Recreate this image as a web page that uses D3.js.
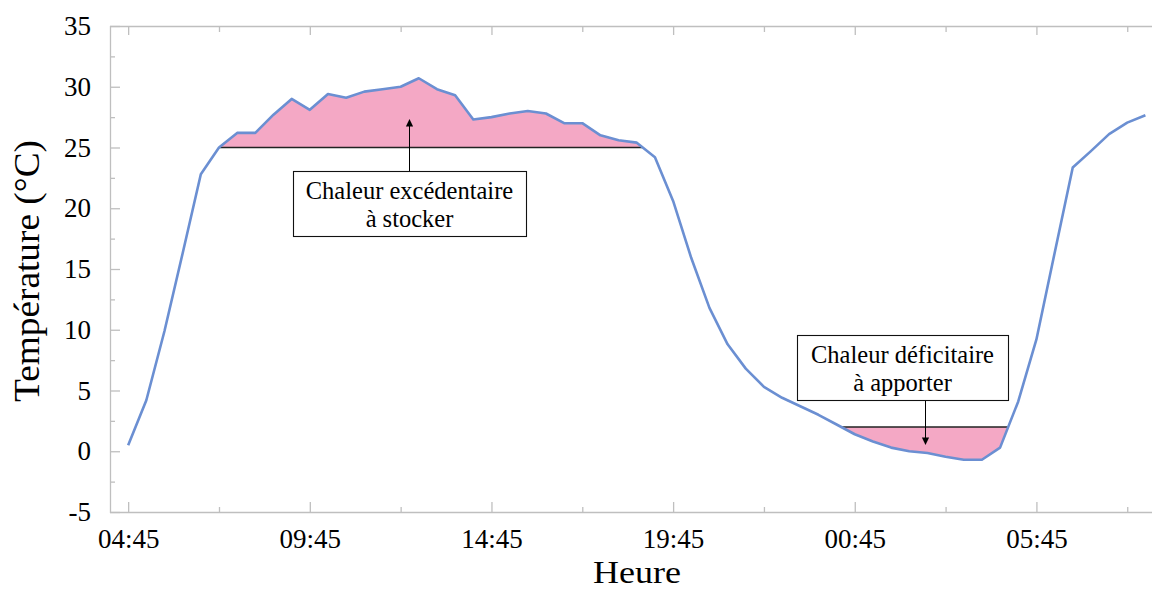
<!DOCTYPE html>
<html><head><meta charset="utf-8">
<script src="https://cdn.jsdelivr.net/npm/d3@7"></script>
<style>
body{margin:0;background:#fff}
svg{display:block}
</style>
</head><body>
<svg id="c" width="1152" height="590" font-family="'Liberation Serif','DejaVu Serif','Times New Roman',serif"></svg>
<script>
// ---- data ----
const times = ["04:45","05:15","05:45","06:15","06:45","07:15","07:45","08:15","08:45","09:15",
  "09:45","10:15","10:45","11:15","11:45","12:15","12:45","13:15","13:45","14:15",
  "14:45","15:15","15:45","16:15","16:45","17:15","17:45","18:15","18:45","19:15",
  "19:45","20:15","20:45","21:15","21:45","22:15","22:45","23:15","23:45","00:15",
  "00:45","01:15","01:45","02:15","02:45","03:15","03:45","04:15","04:45","05:15",
  "05:45","06:15","06:45","07:15","07:45","08:15","08:45"];
const temps = [0.5,4.2,9.9,16.3,22.8,25.0,26.2,26.2,27.7,29.0,
  28.1,29.4,29.1,29.6,29.8,30.0,30.7,29.8,29.3,27.3,
  27.5,27.8,28.0,27.8,27.0,27.0,26.0,25.6,25.4,24.2,
  20.6,15.9,11.8,8.8,6.8,5.3,4.4,3.7,3.0,2.2,
  1.4,0.8,0.3,0.0,-0.15,-0.45,-0.7,-0.7,0.3,4.1,
  9.2,16.3,23.35,24.7,26.1,27.05,27.65];
const yTicks = [-5,0,5,10,15,20,25,30,35];
const xTickLabels = ["04:45","09:45","14:45","19:45","00:45","05:45"];
const storeThreshold = 25;      // chaleur excédentaire
const supplyThreshold = 2;      // chaleur déficitaire
const storeRange = [4, 29];     // bracketing samples (indices)
const supplyRange = [39, 49];
const xLabel = "Heure";
const yLabel = "Température (°C)";
const storeText = ["Chaleur excédentaire", "à stocker"];
const supplyText = ["Chaleur déficitaire", "à apporter"];

const FONT = "'Liberation Serif','DejaVu Serif','Times New Roman',serif";

// ---- parse times with day rollover ----
function parseSeq(arr){
  let day = 0, prev = -1;
  return arr.map(s=>{
    const [h,m] = s.split(":").map(Number);
    const mins = h*60+m;
    if (prev >= 0 && mins < prev) day++;
    prev = mins;
    return new Date(2000,0,1+day,h,m);
  });
}
const dates = parseSeq(times);
const data = dates.map((d,i)=>({t:d, v:temps[i]}));
const tickDates = parseSeq(xTickLabels);

// ---- layout ----
const svg = d3.select("#c");
const L = 110, T = 26, B = 512;
const pxPerHour = 36.33;
const t0 = new Date(+dates[0] - 30*60000);
const t1 = new Date(+t0 + 29*3600000);
const x = d3.scaleTime().domain([t0,t1]).range([L, L + 29*pxPerHour]);
const y = d3.scaleLinear().domain([-5,35]).range([B, T]);
const R = x.range()[1];
const frame = "#bfbfbf";

const minorDates = tickDates.map(d=>new Date(+d + 150*60000));
const yMinor = yTicks.slice(0,-1).map(v=>v+2.5);

// frame
svg.append("line").attr("x1",L).attr("x2",R).attr("y1",T+0.5).attr("y2",T+0.5).attr("stroke",frame).attr("stroke-width",1.3);
svg.append("line").attr("x1",L).attr("x2",R).attr("y1",B+0.5).attr("y2",B+0.5).attr("stroke",frame).attr("stroke-width",1.3);
svg.append("line").attr("x1",L+0.5).attr("x2",L+0.5).attr("y1",T).attr("y2",B+1).attr("stroke",frame).attr("stroke-width",1.3);

function styleAxis(g){
  g.attr("font-family", FONT);
  g.select(".domain").remove();
  g.selectAll(".tick line").attr("stroke",frame).attr("stroke-width",1.3);
  g.selectAll(".tick text").attr("font-family",FONT).style("font-family",FONT)
    .attr("font-size",27).style("font-size","27px").attr("fill","#000");
}

// left axis
const gy = svg.append("g").attr("transform",`translate(${L},0)`)
  .call(d3.axisLeft(y).tickValues(yTicks).tickSize(-10).tickPadding(19).tickFormat(d=>String(d)));
styleAxis(gy);
const gy2 = svg.append("g").attr("transform",`translate(${L},0)`)
  .call(d3.axisLeft(y).tickValues(yMinor).tickSize(-5).tickFormat(""));
styleAxis(gy2);

// bottom axis
const gx = svg.append("g").attr("transform",`translate(0,${B})`)
  .call(d3.axisBottom(x).tickValues(tickDates).tickSize(-10).tickPadding(17).tickFormat(d3.timeFormat("%H:%M")));
styleAxis(gx);
const gx2 = svg.append("g").attr("transform",`translate(0,${B})`)
  .call(d3.axisBottom(x).tickValues(minorDates).tickSize(-5).tickFormat(""));
styleAxis(gx2);

// top mirrored ticks
const gt = svg.append("g").attr("transform",`translate(0,${T})`)
  .call(d3.axisTop(x).tickValues(tickDates).tickSize(-9).tickFormat(""));
styleAxis(gt);
const gt2 = svg.append("g").attr("transform",`translate(0,${T})`)
  .call(d3.axisTop(x).tickValues(minorDates).tickSize(-6).tickFormat(""));
styleAxis(gt2);

// ---- threshold regions ----
function region(range, thr){
  const [a,b] = range;
  const cross = (i,j)=>{
    const f = (thr - data[i].v)/(data[j].v - data[i].v);
    return {t:new Date(+data[i].t + f*(data[j].t - data[i].t)), v:thr};
  };
  const pts = [cross(a,a+1)];
  for (let i=a+1;i<b;i++) pts.push(data[i]);
  pts.push(cross(b-1,b));
  return pts;
}
const pink = "#f4a8c5";
[[storeRange,storeThreshold],[supplyRange,supplyThreshold]].forEach(([rg,thr])=>{
  const pts = region(rg,thr);
  svg.append("path").datum(pts)
    .attr("d", d3.area().x(d=>x(d.t)).y0(y(thr)).y1(d=>y(d.v)))
    .attr("fill", pink);
  svg.append("line")
    .attr("x1", x(pts[0].t)).attr("x2", x(pts[pts.length-1].t))
    .attr("y1", y(thr)).attr("y2", y(thr))
    .attr("stroke","#222").attr("stroke-width",1.5);
});

// ---- temperature line ----
svg.append("path").datum(data)
  .attr("d", d3.line().x(d=>x(d.t)).y(d=>y(d.v)))
  .attr("fill","none").attr("stroke","#6b8fd2").attr("stroke-width",2.6)
  .attr("stroke-linejoin","round");

// ---- annotations ----
function annot(box, lines, arrow){
  const dir = arrow.to < arrow.from ? 1 : -1;
  svg.append("line").attr("x1",arrow.x).attr("x2",arrow.x)
    .attr("y1",arrow.from).attr("y2",arrow.to + dir*7)
    .attr("stroke","#000").attr("stroke-width",1);
  svg.append("path")
    .attr("d",`M${arrow.x},${arrow.to} L${arrow.x-3.6},${arrow.to+dir*7.5} L${arrow.x+3.6},${arrow.to+dir*7.5} Z`)
    .attr("fill","#000");
  svg.append("rect").attr("x",box.x+0.5).attr("y",box.y+0.5).attr("width",box.w).attr("height",box.h)
    .attr("fill","#fff").attr("stroke","#111").attr("stroke-width",1.1);
  lines.forEach((s,i)=>{
    svg.append("text").attr("x",box.x+box.w/2).attr("y",box.y+28+i*27.5)
      .attr("text-anchor","middle").attr("font-family",FONT).style("font-family",FONT)
      .attr("font-size",24.5).style("font-size","24.5px").attr("fill","#000").text(s);
  });
}
annot({x:293,y:171,w:233,h:65}, storeText, {x:409.5, from:171, to:119});
annot({x:797,y:335,w:211,h:65}, supplyText, {x:925.5, from:400, to:445});

// ---- axis titles ----
svg.append("text").attr("x",637).attr("y",583).attr("text-anchor","middle")
  .attr("font-family",FONT).style("font-family",FONT)
  .style("font-size","32px").attr("fill","#000")
  .attr("textLength",88).attr("lengthAdjust","spacingAndGlyphs").text(xLabel);
svg.append("text").attr("transform","translate(39,271) rotate(-90)").attr("text-anchor","middle")
  .attr("font-family",FONT).style("font-family",FONT)
  .style("font-size","36px").attr("fill","#000")
  .attr("textLength",262).attr("lengthAdjust","spacingAndGlyphs").text(yLabel);
</script>
</body></html>
